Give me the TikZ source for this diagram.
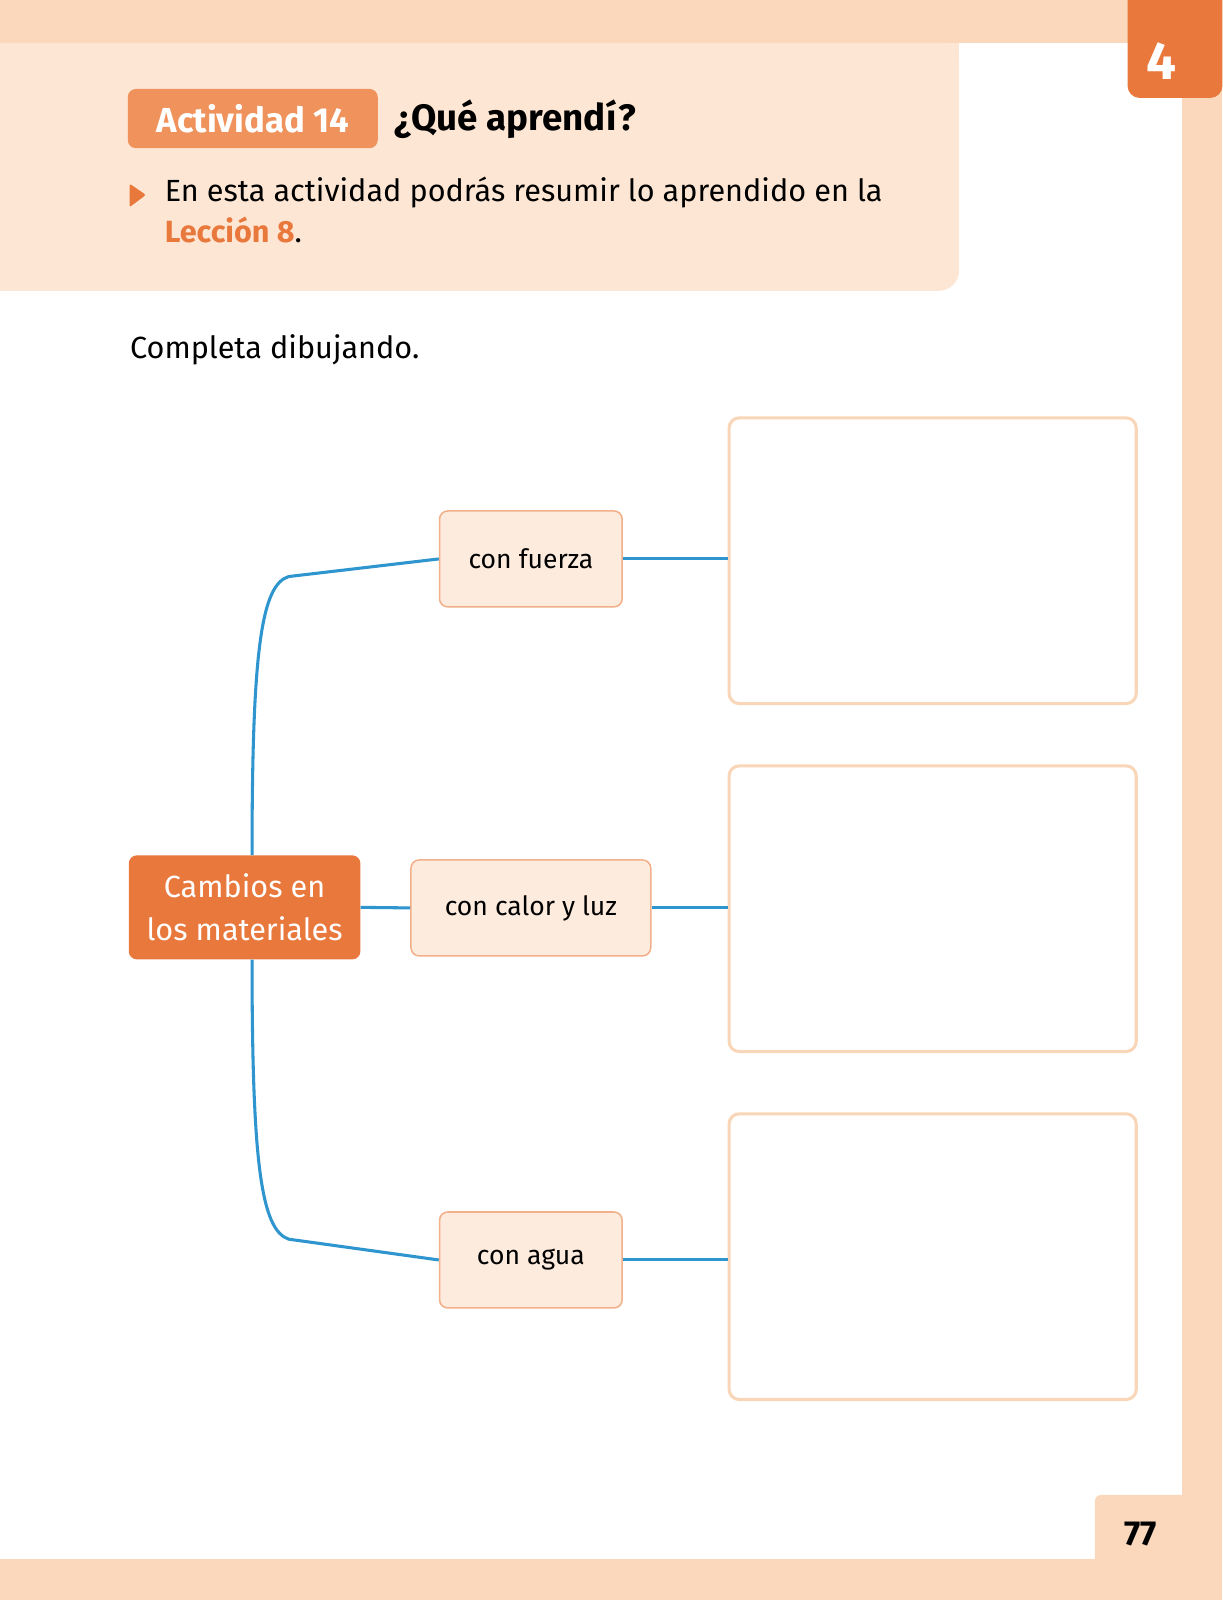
\documentclass[tikz,border=0pt]{standalone}
\usepackage{fontspec}
\setmainfont{Fira Sans}
\usetikzlibrary{calc}
\definecolor{peach}{HTML}{FBD8BC}
\definecolor{peachl}{HTML}{FDE6D3}
\definecolor{org}{HTML}{E9783C}
\definecolor{orgl}{HTML}{EF925C}
\definecolor{nfill}{HTML}{FDEBDD}
\definecolor{nbord}{HTML}{F2B08A}
\definecolor{bbord}{HTML}{F9D6B8}
\definecolor{blu}{HTML}{2E95CF}
\begin{document}
\begin{tikzpicture}[x=1pt,y=-1pt,
 small/.style={draw=nbord,fill=nfill,rounded corners=8,line width=1.5,font=\fontsize{26}{30}\selectfont,anchor=north west,inner sep=0},
 big/.style={draw=bbord,rounded corners=10,line width=3,anchor=north west,inner sep=0},
 conn/.style={draw=blu,line width=3}]
\useasboundingbox (0,0) rectangle (1198,1568);
\fill[white] (0,0) rectangle (1198,1568);
\fill[peach] (0,0) rectangle (1198,42);
\fill[peach] (1158,0) rectangle (1198,1568);
\fill[peach] (0,1528) rectangle (1198,1568);
\fill[peachl,rounded corners=20] (-30,42) rectangle (940,285);
\fill[peachl] (-30,42) rectangle (940,100);
\fill[org,rounded corners=12] (1105,-20) rectangle (1198,96);
\node[text=white,font=\fontsize{52}{52}\selectfont\bfseries] (four) at (1138,60) {4};
\fill[peach,rounded corners=6] (1073,1465) rectangle (1180,1540);
\node[font=\fontsize{34}{34}\selectfont\bfseries] (pg) at (1118,1503) {77};
\node[fill=orgl,rounded corners=8,text=white,font=\fontsize{34}{34}\selectfont\bfseries,minimum width=245,minimum height=58,anchor=north west] (act) at (125,87) {Actividad 14};
\node[font=\fontsize{36}{36}\selectfont\bfseries,anchor=west] (q) at (383,117) {¿Qué aprendí?};
\fill[org,rounded corners=2] (127,180) -- (127,203) -- (143,191) -- cycle;
\node[font=\fontsize{30}{40}\selectfont,anchor=north west,align=left] (intro) at (158,170) {En esta actividad podrás resumir lo aprendido en la\\{\color{org}\bfseries Lección 8}.};
\node[font=\fontsize{30}{30}\selectfont,anchor=west] (comp) at (124,343) {Completa dibujando.};
\node[big,minimum width=399,minimum height=280] (b1) at (713,408) {};
\node[big,minimum width=399,minimum height=280] (b2) at (713,749) {};
\node[big,minimum width=399,minimum height=280] (b3) at (713,1090) {};
\node[small,minimum width=179,minimum height=94] (f) at (430,500) {con fuerza};
\node[small,minimum width=235,minimum height=94] (cl) at (402,842) {con calor y luz};
\node[small,minimum width=179,minimum height=94] (a) at (430,1187) {con agua};
\node[fill=org,rounded corners=8,text=white,font=\fontsize{30}{42}\selectfont,align=center,minimum width=227,minimum height=102,anchor=north west,inner sep=0] (c) at (126,838) {Cambios en\\los materiales};
\draw[conn] ($(c.north west)+(121,0)$) .. controls ($(c.north west)+(121,-200)$) and ($(c.north west)+(130,-265)$) .. ($(c.north west)+(157,-273)$) -- (f.west);
\draw[conn] ($(c.south west)+(121,0)$) .. controls ($(c.south west)+(121,200)$) and ($(c.south west)+(130,265)$) .. ($(c.south west)+(157,274)$) -- (a.west);
\draw[conn] (c.east) -- (cl.west);
\draw[conn] (f.east) -- (f.east-|b1.west);
\draw[conn] (cl.east) -- (cl.east-|b2.west);
\draw[conn] (a.east) -- (a.east-|b3.west);
\end{tikzpicture}
\end{document}
